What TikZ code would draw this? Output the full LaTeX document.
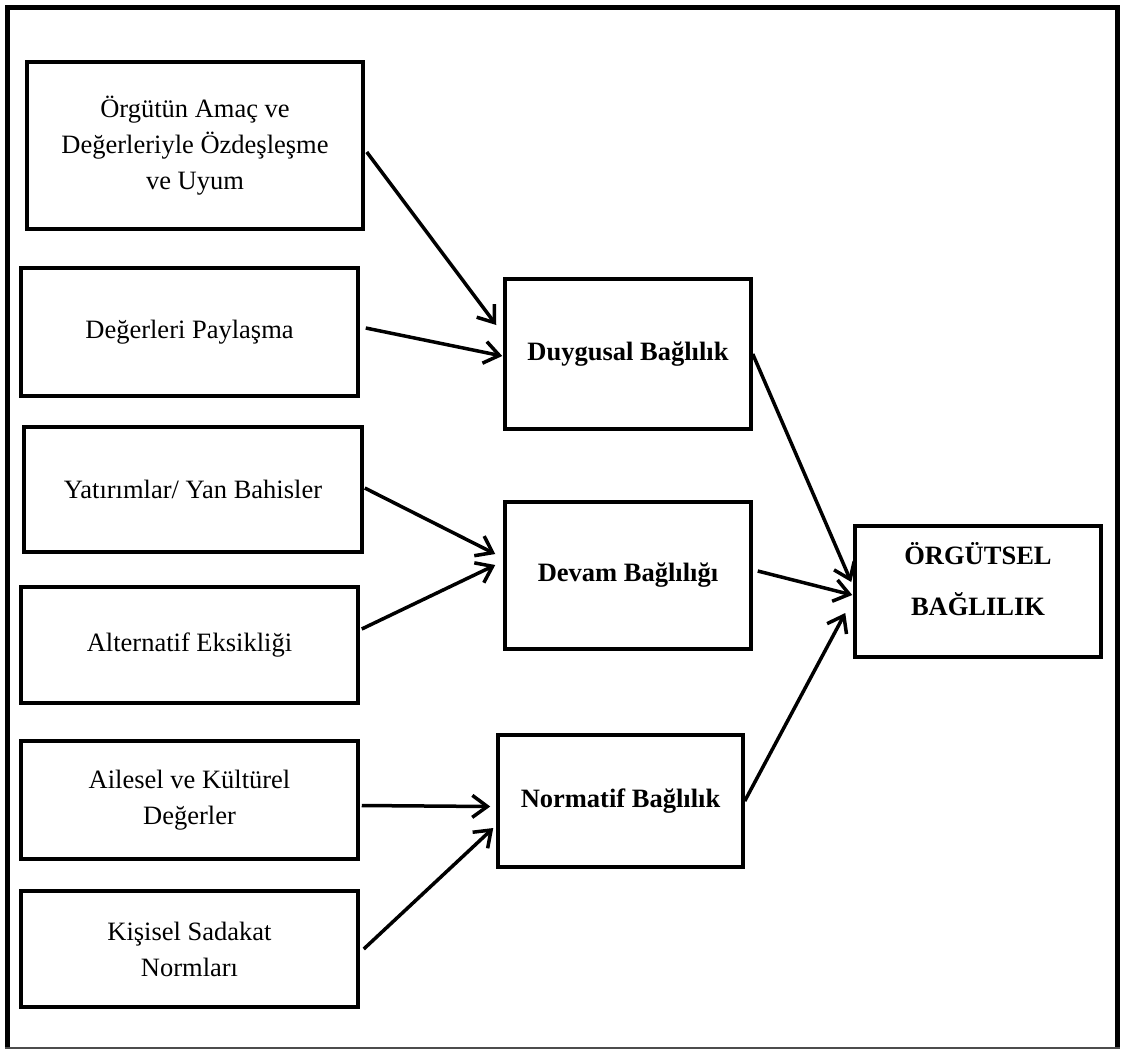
\documentclass[tikz,border=0pt]{standalone}
\usepackage{fontspec}
\setmainfont{Liberation Serif}
\usetikzlibrary{arrows.meta}
\tikzset{
  box/.style={draw, line width=3.5pt, rectangle, align=center, inner sep=0pt,
    font=\fontsize{26.5}{36}\selectfont},
  boldbox/.style={box, font=\fontsize{26.5}{36}\selectfont\bfseries},
  arr/.style={line width=3.5pt, -{Straight Barb[length=15pt,width=22pt]}}
}
\begin{document}
\begin{tikzpicture}[x=1pt,y=-1pt]
\useasboundingbox (0,0) rectangle (1121,1050);
% outer frame
\draw[line width=4.5pt] (7.5,1048) -- (7.5,7.5) -- (1117.5,7.5) -- (1117.5,1048);
\draw[line width=1.2pt, black!70] (5.25,1048) -- (1119.75,1048);
% left boxes
\node[box, minimum width=336pt, minimum height=167pt] (b1) at (195,145.5)
  {Örgütün Amaç ve\\Değerleriyle Özdeşleşme\\ve Uyum};
\node[box, minimum width=337pt, minimum height=128pt] (b2) at (189.5,332)
  {Değerleri Paylaşma};
\node[box, minimum width=338pt, minimum height=125pt] (b3) at (193,489.5)
  {Yatırımlar/ Yan Bahisler};
\node[box, minimum width=337pt, minimum height=116pt] (b4) at (189.5,645)
  {Alternatif Eksikliği};
\node[box, minimum width=337pt, minimum height=118pt] (b5) at (189.5,800)
  {Ailesel ve Kültürel\\Değerler};
\node[box, minimum width=337pt, minimum height=116pt] (b6) at (189.5,949)
  {Kişisel Sadakat\\Normları};
% middle boxes
\node[boldbox, minimum width=246pt, minimum height=150pt] (dg) at (628,354)
  {Duygusal Bağlılık};
\node[boldbox, minimum width=246pt, minimum height=147pt] (dv) at (628,575.5)
  {Devam Bağlılığı};
\node[boldbox, minimum width=245pt, minimum height=132pt] (nm) at (620.5,801)
  {Normatif Bağlılık};
% right box
\node[box, minimum width=246pt, minimum height=131pt] (og) at (978,591.5) {};
\node[align=center, inner sep=0pt, font=\fontsize{26.5}{36}\selectfont\bfseries] (ogt) at (978,579)
  {ÖRGÜTSEL\\[15pt]BAĞLILIK};
% connectors
\draw[arr] ([xshift=2pt,yshift=-6.5pt]b1.east) -- ([xshift=-7pt,yshift=29pt]dg.west);
\draw[arr] ([xshift=6pt,yshift=4pt]b2.east) -- ([xshift=-1pt,yshift=-2pt]dg.west);
\draw[arr] ([xshift=1pt,yshift=1.5pt]b3.east) -- ([xshift=-8pt,yshift=21.5pt]dv.west);
\draw[arr] ([xshift=2pt,yshift=16pt]b4.east) -- ([xshift=-8pt,yshift=10.5pt]dv.west);
\draw[arr] ([xshift=2pt,yshift=-5.5pt]b5.east) -- ([xshift=-6pt,yshift=-5.5pt]nm.west);
\draw[arr] ([xshift=4pt]b6.east) -- ([xshift=-3pt,yshift=-27pt]nm.west);
\draw[arr] (dg.east) -- ([xshift=-2pt,yshift=9.5pt]og.west);
\draw[arr] ([xshift=5pt,yshift=4.5pt]dv.east) -- ([xshift=-1pt,yshift=-3.5pt]og.west);
\draw[arr] (nm.east) -- ([xshift=-8pt,yshift=-21.5pt]og.west);
\end{tikzpicture}
\end{document}
